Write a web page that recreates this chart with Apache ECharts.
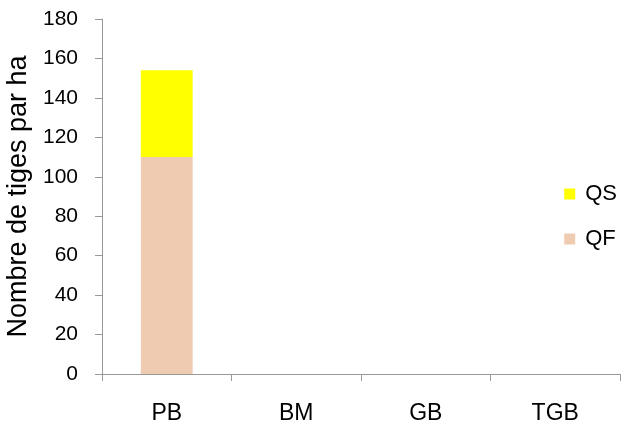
<!DOCTYPE html>
<html>
<head>
<meta charset="utf-8">
<script src="https://cdn.jsdelivr.net/npm/echarts@6/dist/echarts.min.js"></script>
<style>
html,body{margin:0;padding:0;background:#fff;}
#c{width:623px;height:426px;}
</style>
</head>
<body>
<div id="c"></div>
<script>
const categories = ['PB', 'BM', 'GB', 'TGB'];
const qfValues = [110, 0, 0, 0];
const qsValues = [44, 0, 0, 0];
const yTicks = { min: 0, max: 180, interval: 20 };

const chart = echarts.init(document.getElementById('c'), null, { renderer: 'canvas' });
const font = 'Liberation Sans, Arial, sans-serif';
chart.setOption({
  animation: false,
  textStyle: { fontFamily: font },
  grid: { left: 102, right: 3, top: 19, bottom: 52, containLabel: false, outerBoundsMode: 'none' },
  legend: {
    orient: 'vertical',
    right: 1,
    top: 178,
    data: ['QS', 'QF'],
    itemWidth: 11,
    itemHeight: 11,
    itemGap: 23,
    icon: 'rect',
    textStyle: { fontSize: 22, color: '#000', fontFamily: font, padding: [0, 0, 0, 5] }
  },
  xAxis: {
    type: 'category',
    data: categories,
    axisLine: { lineStyle: { color: '#999', width: 1 } },
    axisTick: { show: true, length: 7, lineStyle: { color: '#999' } },
    axisLabel: { fontSize: 23, color: '#000', margin: 28, fontFamily: font }
  },
  yAxis: {
    type: 'value',
    min: yTicks.min,
    max: yTicks.max,
    interval: yTicks.interval,
    name: 'Nombre de tiges par ha',
    nameLocation: 'middle',
    nameGap: 69,
    nameTextStyle: { fontSize: 27, color: '#000', fontFamily: font },
    splitLine: { show: false },
    axisLine: { show: true, lineStyle: { color: '#999', width: 1 } },
    axisTick: { show: true, length: 7, lineStyle: { color: '#999' } },
    axisLabel: { fontSize: 21, color: '#000', margin: 24, fontFamily: font }
  },
  series: [
    { name: 'QF', type: 'bar', stack: 'a', data: qfValues, barWidth: '40%', itemStyle: { color: '#EFCBB1' } },
    { name: 'QS', type: 'bar', stack: 'a', data: qsValues, barWidth: '40%', itemStyle: { color: '#FFFF00' } }
  ]
});
</script>
</body>
</html>
